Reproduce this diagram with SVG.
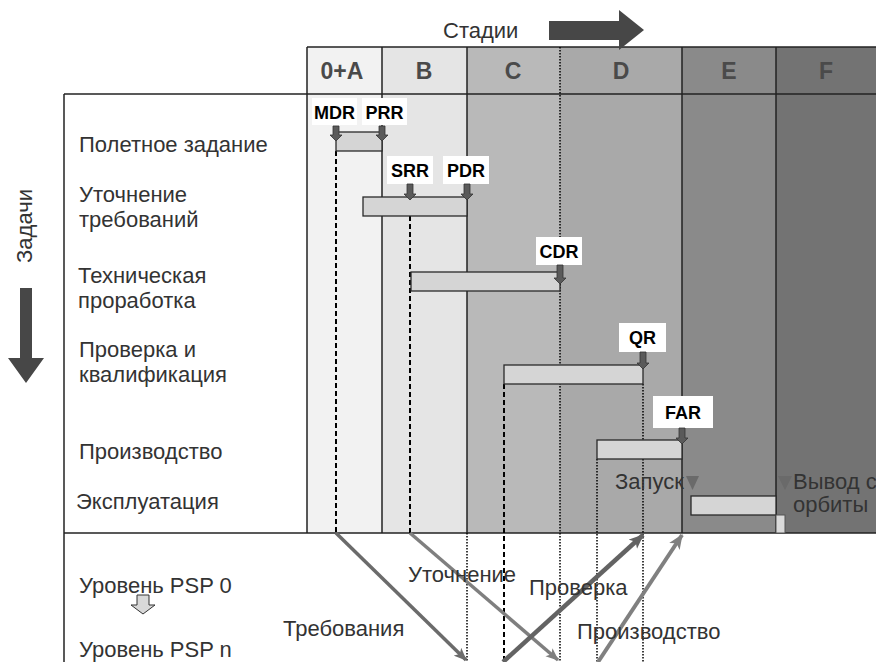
<svg xmlns="http://www.w3.org/2000/svg" width="876" height="662" viewBox="0 0 876 662">
<defs>
<style>
.lbl{font-family:"Liberation Sans",Arial,sans-serif;font-size:22px;fill:#333}
.hdr{font-family:"Liberation Sans",Arial,sans-serif;font-size:23px;font-weight:bold;fill:#4a4a4a;text-anchor:middle}
.ms{font-family:"Liberation Sans",Arial,sans-serif;font-size:18px;font-weight:bold;fill:#000;text-anchor:middle}
.msbox{fill:#fff}
.grid{stroke:#222;stroke-width:1.5;fill:none}
.bar{fill:#d5d5d5;stroke:#2a2a2a;stroke-width:1.3}
.dash{stroke:#000;stroke-width:2;stroke-dasharray:5 3;fill:none}
.dot{stroke:#000;stroke-width:1.5;stroke-dasharray:1.5 1.5;fill:none}
.marr{fill:#5a5a5a;stroke:#333;stroke-width:0.8}
.tri{fill:#6a6a6a}
</style>
<marker id="h1" viewBox="0 0 12 10" refX="11" refY="5" markerWidth="13" markerHeight="11" markerUnits="userSpaceOnUse" orient="auto"><path d="M0,0 L12,5 L0,10 L3,5 z" fill="#6b6b6b"/></marker>
<marker id="h2" viewBox="0 0 12 10" refX="11" refY="5" markerWidth="13" markerHeight="11" markerUnits="userSpaceOnUse" orient="auto"><path d="M0,0 L12,5 L0,10 L3,5 z" fill="#7f7f7f"/></marker>
<marker id="h3" viewBox="0 0 12 10" refX="11" refY="5" markerWidth="15" markerHeight="13" markerUnits="userSpaceOnUse" orient="auto"><path d="M0,0 L12,5 L0,10 L3,5 z" fill="#636363"/></marker>
<marker id="h4" viewBox="0 0 12 10" refX="11" refY="5" markerWidth="15" markerHeight="13" markerUnits="userSpaceOnUse" orient="auto"><path d="M0,0 L12,5 L0,10 L3,5 z" fill="#808080"/></marker>
</defs>
<rect width="876" height="662" fill="#fff"/>

<g id="stages-bg">
<rect x="307" y="47" width="75" height="486" fill="#f2f2f2"/>
<rect x="382" y="47" width="85" height="486" fill="#e5e5e5"/>
<rect x="467" y="47" width="93" height="486" fill="#b9b9b9"/>
<rect x="560" y="47" width="122" height="486" fill="#a9a9a9"/>
<rect x="682" y="47" width="94" height="486" fill="#8a8a8a"/>
<rect x="776" y="47" width="100" height="486" fill="#737373"/>
</g>

<g id="header">
<text class="hdr" x="342" y="79">0+A</text>
<text class="hdr" x="424" y="79">B</text>
<text class="hdr" x="513" y="79">C</text>
<text class="hdr" x="621" y="79">D</text>
<text class="hdr" x="729" y="79">E</text>
<text class="hdr" x="826" y="79">F</text>
</g>

<g id="grid">
<line class="grid" x1="307" y1="47" x2="876" y2="47"/>
<line class="grid" x1="64" y1="94" x2="876" y2="94"/>
<line class="grid" x1="64" y1="533" x2="876" y2="533"/>
<line class="grid" x1="64" y1="94" x2="64" y2="662"/>
<line class="grid" x1="307" y1="47" x2="307" y2="533"/>
<line class="grid" x1="382" y1="47" x2="382" y2="533"/>
<line class="grid" x1="467" y1="47" x2="467" y2="533"/>
<line class="grid" x1="682" y1="47" x2="682" y2="533"/>
<line class="grid" x1="776" y1="47" x2="776" y2="533"/>
</g>

<g id="titles">
<text class="lbl" x="443" y="38">Стадии</text>
<path d="M549,21 H619 V10 L644,30 L619,50 V40 H549 Z" fill="#474747"/>
<text class="lbl" transform="translate(32,226) rotate(-90)" text-anchor="middle">Задачи</text>
<path d="M20,288 H32 V358 H44 L26,383 L8,358 H20 Z" fill="#474747"/>
</g>

<g id="row-labels">
<text class="lbl" x="79" y="152">Полетное задание</text>
<text class="lbl" x="79" y="202">Уточнение</text>
<text class="lbl" x="79" y="227">требований</text>
<text class="lbl" x="78" y="283">Техническая</text>
<text class="lbl" x="78" y="308">проработка</text>
<text class="lbl" x="79" y="357">Проверка и</text>
<text class="lbl" x="79" y="382">квалификация</text>
<text class="lbl" x="79" y="459">Производство</text>
<text class="lbl" x="76" y="509">Эксплуатация</text>
</g>

<g id="psp">
<text class="lbl" x="79" y="593">Уровень PSP 0</text>
<path d="M137,595 H149 V605 H155 L143,614 L131,605 H137 Z" fill="#d8d8d8" stroke="#333" stroke-width="1"/>
<text class="lbl" x="79" y="657">Уровень PSP n</text>
</g>

<g id="guides">
<line class="dash" x1="336" y1="151" x2="336" y2="533"/>
<line class="dash" x1="410" y1="216" x2="410" y2="533"/>
<line class="dash" x1="504" y1="384" x2="504" y2="662"/>
<line class="dot" x1="560" y1="47" x2="560" y2="662"/>
<line class="dot" x1="643" y1="384" x2="643" y2="662"/>
<line class="dot" x1="597" y1="459" x2="597" y2="662"/>
<line class="dot" x1="467" y1="533" x2="467" y2="662"/>
</g>

<g id="bars">
<rect class="bar" x="336" y="132" width="46" height="19"/>
<rect class="bar" x="363" y="197" width="104" height="19"/>
<rect class="bar" x="411" y="272" width="149" height="19"/>
<rect class="bar" x="504" y="365" width="139" height="19"/>
<rect class="bar" x="597" y="440" width="85" height="19"/>
<rect class="bar" x="691" y="496" width="85" height="19"/>
<rect x="776" y="515" width="9" height="18" fill="#dadada" stroke="#555" stroke-width="1"/>
</g>

<g id="milestones">
<g id="MDR"><rect class="msbox" x="312" y="98" width="45" height="27"/><text class="ms" x="334.5" y="119">MDR</text>
<path class="marr" d="M333,126 h6 v9 h3 l-6,6 l-6,-6 h3 z"/></g>
<g id="PRR"><rect class="msbox" x="362" y="98" width="45" height="27"/><text class="ms" x="384.5" y="119">PRR</text>
<path class="marr" d="M379,126 h6 v9 h3 l-6,6 l-6,-6 h3 z"/></g>
<g id="SRR"><rect class="msbox" x="387" y="156" width="46" height="28"/><text class="ms" x="410" y="177">SRR</text>
<path class="marr" d="M407,184 h6 v10 h3 l-6,6 l-6,-6 h3 z"/></g>
<g id="PDR"><rect class="msbox" x="443" y="156" width="46" height="28"/><text class="ms" x="466" y="177">PDR</text>
<path class="marr" d="M464,184 h6 v10 h3 l-6,6 l-6,-6 h3 z"/></g>
<g id="CDR"><rect class="msbox" x="536" y="237" width="46" height="28"/><text class="ms" x="559" y="258">CDR</text>
<path class="marr" d="M557,265 h6 v13 h3 l-6,6 l-6,-6 h3 z"/></g>
<g id="QR"><rect class="msbox" x="619" y="323" width="47" height="29"/><text class="ms" x="642.5" y="344">QR</text>
<path class="marr" d="M640,352 h6 v11 h3 l-6,6 l-6,-6 h3 z"/></g>
<g id="FAR"><rect class="msbox" x="653" y="396" width="60" height="32"/><text class="ms" x="683" y="419">FAR</text>
<path class="marr" d="M679,428 h6 v10 h3 l-6,6 l-6,-6 h3 z"/></g>
</g>

<g id="operations">
<text class="lbl" x="615" y="489" fill="#3a3a3a">Запуск</text>
<polygon class="tri" points="686,476 699,476 692.5,490"/>
<polygon class="tri" points="778,476 792,476 785,490"/>
<text class="lbl" x="793" y="489">Вывод с</text>
<text class="lbl" x="793" y="512">орбиты</text>
</g>

<g id="connectors">
<line x1="336" y1="533" x2="466" y2="660" stroke="#6b6b6b" stroke-width="3.5" marker-end="url(#h1)"/>
<line x1="410" y1="533" x2="558" y2="660" stroke="#7f7f7f" stroke-width="3.5" marker-end="url(#h2)"/>
<line x1="503" y1="662" x2="643" y2="535" stroke="#636363" stroke-width="4.5" marker-end="url(#h3)"/>
<line x1="598" y1="662" x2="682" y2="535" stroke="#808080" stroke-width="4" marker-end="url(#h4)"/>
</g>

<g id="connector-labels">
<text class="lbl" x="283" y="636">Требования</text>
<text class="lbl" x="408" y="582">Уточнение</text>
<text class="lbl" x="529" y="595">Проверка</text>
<text class="lbl" x="577" y="639">Производство</text>
</g>
</svg>
